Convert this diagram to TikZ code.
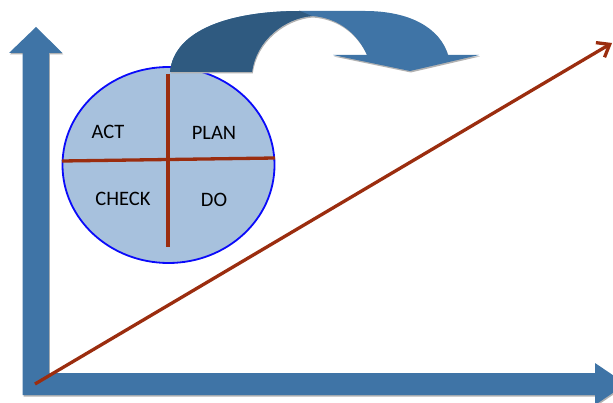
\documentclass[tikz,border=0pt]{standalone}
\usepackage{fontspec}
\setmainfont{Carlito}
\usetikzlibrary{shapes.geometric,arrows.meta}
\definecolor{axisblue}{RGB}{63,116,166}
\definecolor{darkblue}{RGB}{47,90,128}
\definecolor{cellfill}{RGB}{167,193,221}
\definecolor{rimblue}{RGB}{10,10,250}
\definecolor{redline}{RGB}{155,45,15}
\begin{document}
\begin{tikzpicture}[x=1pt,y=-1pt,
  cyclabel/.style={font=\fontsize{20.5}{24}\selectfont, text=black, inner sep=0pt},
  shadowed/.style={preaction={fill=black!30, transform canvas={shift={(0.8,1.5)}}}},
  divider/.style={draw=redline, line width=3.3pt},
  trend/.style={draw=redline, line width=3.3pt, -{Straight Barb[length=11pt,width=17pt]}}]
\useasboundingbox (0,0) rectangle (613,403);
\clip (0,0) rectangle (613,403);
% axes
\fill[axisblue, shadowed] (22.7,395) -- (22.7,53) -- (9,53) -- (36,27) -- (62.5,53) -- (49,53)
  -- (49,373) -- (595,373) -- (595,363) -- (626,384) -- (595,405) -- (595,395) -- cycle;
% PDCA circle
\node[ellipse, draw=rimblue, line width=1.8pt, fill=cellfill, minimum width=212pt,
  minimum height=196pt, inner sep=0pt] (pdca) at (168.5,165) {};
\coordinate (vt) at (168,74);
\coordinate (vb) at (168,247);
\coordinate (hl) at (62,161);
\coordinate (hr) at (275,158);
\draw[divider] (vt) -- (vb);
\draw[divider] (hl) -- (hr);
\node[cyclabel] (act) at (108,132) {ACT};
\node[cyclabel] (plan) at (214,133) {PLAN};
\node[cyclabel] (check) at (123,199) {CHECK};
\node[cyclabel] (do) at (214,200) {DO};
% curved arrow
\fill[axisblue, shadowed] (170,72) .. controls (174,30) and (230,11) .. (300,11) -- (365,11)
  .. controls (410,11) and (440,28) .. (448,55) -- (479,55) -- (410,71) -- (333,55) -- (367,55)
  .. controls (358,35) and (340,18) .. (312,16)
  .. controls (285,18) and (256,40) .. (252,72) -- cycle;
\fill[darkblue] (170,72) .. controls (174,30) and (230,11) .. (300,11) -- (312,16)
  .. controls (285,18) and (256,40) .. (252,72) -- cycle;
% trend line
\coordinate (start) at (35,384);
\coordinate (end) at (612,43);
\draw[trend] (start) -- (end);
\end{tikzpicture}
\end{document}
